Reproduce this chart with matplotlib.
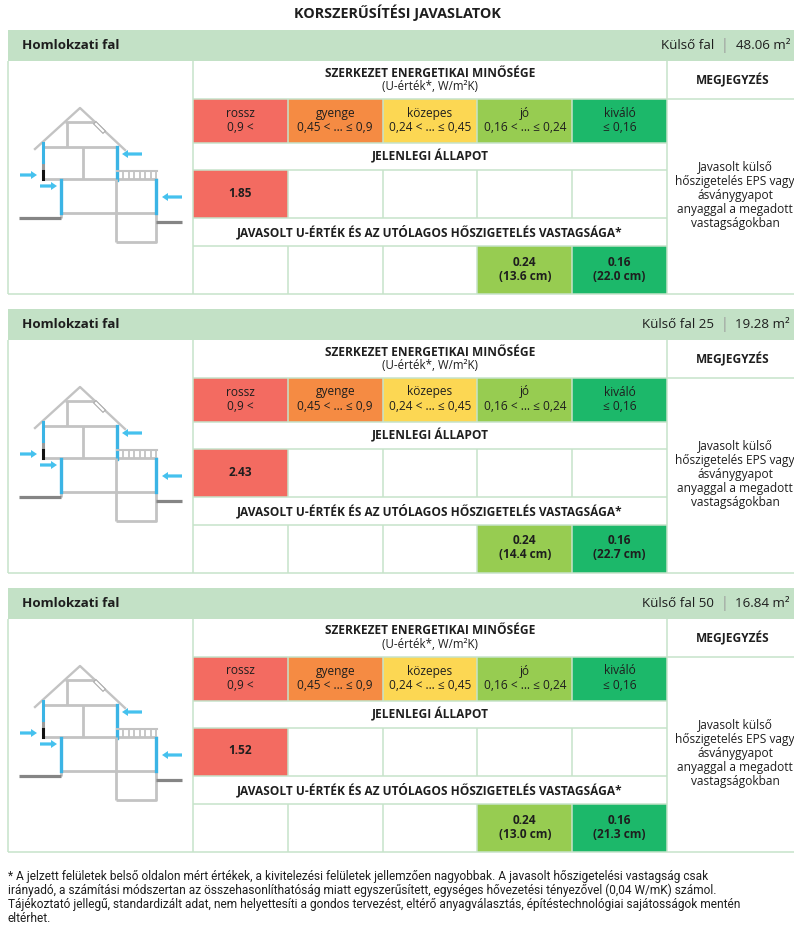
import matplotlib.pyplot as plt
from matplotlib.patches import Rectangle

plt.rcParams['font.family'] = ['Open Sans', 'DejaVu Sans']

# ---- adatok ----
categories = ['rossz', 'gyenge', 'közepes', 'jó', 'kiváló']
ranges = ['0,9 <', '0,45 < … ≤ 0,9', '0,24 < … ≤ 0,45', '0,16 < … ≤ 0,24', '≤ 0,16']
cat_colors = ['#f36b61', '#f58b43', '#fcd753', '#97cc51', '#1cb86a']

panel_names = ['Homlokzati fal', 'Homlokzati fal', 'Homlokzati fal']
walls = ['Külső fal', 'Külső fal 25', 'Külső fal 50']
areas = [48.06, 19.28, 16.84]
current_u = [1.85, 2.43, 1.52]
current_cat = [0, 0, 0]
rec_u = [0.24, 0.16]
rec_cat = [3, 4]
rec_thick = [[13.6, 22.0], [14.4, 22.7], [13.0, 21.3]]

note_lines = ['Javasolt külső', 'hőszigetelés EPS vagy', 'ásványgyapot',
              'anyaggal a megadott', 'vastagságokban']
footnote = ('* A jelzett felületek belső oldalon mért értékek, a kivitelezési felületek jellemzően nagyobbak. '
            'A javasolt hőszigetelési vastagság csak\n'
            'irányadó, a számítási módszertan az összehasonlíthatóság miatt egyszerűsített, egységes '
            'hővezetési tényezővel (0,04 W/mK) számol.\n'
            'Tájékoztató jellegű, standardizált adat, nem helyettesíti a gondos tervezést, eltérő '
            'anyagválasztás, építéstechnológiai sajátosságok mentén\n'
            'eltérhet.')

TXT = '#1e1e1e'
GRID = '#c6e3ca'
BAND = '#c3e1c6'
GREY = '#c3c3c3'
BLUE = '#3bb4e5'
ARROW = '#45c1ee'
FS = 8.6   # alap betűméret a táblában

fig = plt.figure(figsize=(7.94, 9.48), dpi=100)
ax = fig.add_axes([0, 0, 1, 1])
ax.set_xlim(0, 794)
ax.set_ylim(948, 0)
ax.axis('off')

x_left, x_tab, x_note, x_right = 8, 193, 667, 794
col_w = (x_note - x_tab) / 5
cols = [x_tab + k * col_w for k in range(6)]


def hline(y, x0, x1):
    ax.plot([x0, x1], [y, y], color=GRID, lw=1.1, solid_capstyle='butt')


def vline(x, y0, y1):
    ax.plot([x, x], [y0, y1], color=GRID, lw=1.1, solid_capstyle='butt')


def cell(k, y0, y1, color):
    ax.add_patch(Rectangle((cols[k], y0), col_w, y1 - y0, facecolor=color, edgecolor='none'))


def draw_house(T):
    g = dict(color=GREY, lw=2.0, solid_capstyle='butt')
    # tető
    ax.plot([35, 80, 125], [T + 119, T + 78, T + 120], color=GREY, lw=1.7)
    ax.plot([65, 95], [T + 92, T + 92], **g)
    ax.plot([67, 67], [T + 92, T + 117], **g)
    ax.plot([96, 103], [T + 94, T + 101], color='#aaaaaa', lw=3.2)
    ax.plot([96, 103], [T + 94, T + 101], color='white', lw=1.6)
    # emelet
    ax.plot([43, 117], [T + 117, T + 117], **g)
    ax.plot([83, 83], [T + 117, T + 149], **g)
    ax.plot([43, 157], [T + 149, T + 149], **g)
    ax.plot([43, 43], [T + 132, T + 141], color='#999999', lw=2.2)
    ax.plot([43, 43], [T + 141, T + 149], color='#111111', lw=2.2)
    ax.plot([43, 43], [T + 113, T + 132], color=BLUE, lw=2.2)
    ax.plot([117, 117], [T + 117, T + 150], color=BLUE, lw=2.4)
    # erkély
    ax.plot([117, 157], [T + 141, T + 141], color=GREY, lw=1.5)
    for px in [123, 128.5, 134, 139.5, 145, 150.5, 156]:
        ax.plot([px, px], [T + 141, T + 149], color=GREY, lw=1.3)
    # földszint
    ax.plot([61, 156], [T + 183, T + 183], **g)
    ax.plot([116, 116], [T + 149, T + 212], **g)
    ax.plot([116, 156, 156], [T + 212, T + 212, T + 183], **g)
    ax.plot([61, 61], [T + 183, T + 188], **g)
    ax.plot([61, 61], [T + 150, T + 183], color=BLUE, lw=2.4)
    ax.plot([156, 156], [T + 150, T + 183], color=BLUE, lw=2.4)
    # terepszint
    ax.plot([19, 61], [T + 188, T + 188], color='#858585', lw=2.3, solid_capstyle='butt')
    ax.plot([156, 182], [T + 192, T + 192], color='#858585', lw=2.3, solid_capstyle='butt')
    # nyilak
    for x0, x1, yy in [(20, 37, 145), (40, 57, 156), (142, 122, 124), (182, 162, 167)]:
        ax.arrow(x0, T + yy, x1 - x0, 0, width=3.2, head_width=8, head_length=6,
                 length_includes_head=True, color=ARROW, lw=0)


ax.text(397, 13, 'KORSZERŰSÍTÉSI JAVASLATOK', ha='center', va='center',
        fontsize=10.4, fontweight='bold', color=TXT)

for i in range(3):
    T = 30 + 279 * i
    r = [T + 31, T + 69, T + 113, T + 140, T + 188, T + 216, T + 264]

    # fejléc sáv
    ax.add_patch(Rectangle((x_left, T), x_right - x_left, 31, facecolor=BAND, edgecolor='none'))
    ax.text(22, T + 15.5, panel_names[i], ha='left', va='center', fontsize=9.6,
            fontweight='bold', color=TXT)
    t_area = ax.text(790, T + 15.5, f'{areas[i]:.2f} m²', ha='right', va='center',
                     fontsize=9.6, color=TXT)
    t_sep = ax.annotate('|', xy=(0, 0.5), xycoords=t_area, xytext=(-5, 0),
                        textcoords='offset points', ha='right', va='center',
                        fontsize=10, color='#9a9a9a')
    ax.annotate(walls[i], xy=(0, 0.5), xycoords=t_sep, xytext=(-5, 0),
                textcoords='offset points', ha='right', va='center',
                fontsize=9.6, color=TXT)

    # színes cellák
    for k in range(5):
        cell(k, r[1], r[2], cat_colors[k])
        ax.text(cols[k] + col_w / 2, T + 83, categories[k], ha='center', va='center',
                fontsize=FS, color=TXT)
        ax.text(cols[k] + col_w / 2, T + 97.5, ranges[k], ha='center', va='center',
                fontsize=FS, color=TXT)
    k = current_cat[i]
    cell(k, r[3], r[4], cat_colors[k])
    ax.text(cols[k] + col_w / 2, T + 163, f'{current_u[i]:.2f}', ha='center', va='center',
            fontsize=FS, fontweight='bold', color=TXT)
    for j in range(2):
        k = rec_cat[j]
        cell(k, r[5], r[6], cat_colors[k])
        ax.text(cols[k] + col_w / 2, T + 232, f'{rec_u[j]:.2f}', ha='center', va='center',
                fontsize=FS, fontweight='bold', color=TXT)
        ax.text(cols[k] + col_w / 2, T + 246, f'({rec_thick[i][j]:.1f} cm)', ha='center',
                va='center', fontsize=FS, fontweight='bold', color=TXT)

    # rácsvonalak
    vline(x_left, r[0], r[6])
    vline(x_tab, r[0], r[6])
    vline(x_note, r[0], r[6])
    hline(r[1], x_tab, x_right)
    for y in r[2:6]:
        hline(y, x_tab, x_note)
    hline(r[6], x_left, x_right)
    for x in cols[1:5]:
        for a, b in [(r[1], r[2]), (r[3], r[4]), (r[5], r[6])]:
            vline(x, a, b)

    # szövegek
    mid = (x_tab + x_note) / 2
    ax.text(mid, T + 43, 'SZERKEZET ENERGETIKAI MINŐSÉGE', ha='center', va='center',
            fontsize=FS, fontweight='bold', color=TXT)
    ax.text(mid, T + 56.5, '(U-érték*, W/m²K)', ha='center', va='center', fontsize=8.3, color=TXT)
    ax.text(733, T + 50, 'MEGJEGYZÉS', ha='center', va='center', fontsize=FS,
            fontweight='bold', color=TXT)
    ax.text(mid, T + 126.5, 'JELENLEGI ÁLLAPOT', ha='center', va='center', fontsize=FS,
            fontweight='bold', color=TXT)
    ax.text(mid, T + 202, 'JAVASOLT U-ÉRTÉK ÉS AZ UTÓLAGOS HŐSZIGETELÉS VASTAGSÁGA*',
            ha='center', va='center', fontsize=FS, fontweight='bold', color=TXT)
    for n, line in enumerate(note_lines):
        ax.text(735, T + 137 + 14 * n, line, ha='center', va='center', fontsize=FS, color=TXT)

    draw_house(T)

ax.text(8, 870, footnote, ha='left', va='top', fontsize=8.6, linespacing=1.1,
        family=['Roboto', 'DejaVu Sans'], color=TXT)

fig.savefig('out.png', dpi=100)
